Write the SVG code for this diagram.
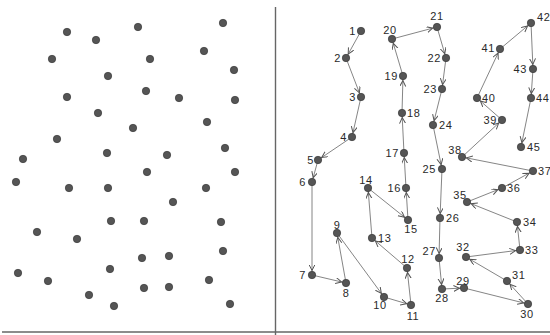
<svg xmlns="http://www.w3.org/2000/svg" width="550" height="335" viewBox="0 0 550 335">
<style>
.dot{fill:#555;stroke:#3a3a3a;stroke-width:0.7}
.lbl{font-family:"Liberation Sans",Arial,sans-serif;font-size:11px;fill:#2a2a2a;letter-spacing:0.6px}
.e{text-anchor:end}
.m{text-anchor:middle}
.c line{stroke:#777;stroke-width:0.9;marker-end:url(#ah)}
.frame{stroke:#666;stroke-width:1.4;fill:none}
</style>
<defs>
<marker id="ah" markerUnits="userSpaceOnUse" markerWidth="12" markerHeight="8" refX="10.5" refY="3" orient="auto">
<path d="M0,0 L6,3 L0,6" fill="none" stroke="#555" stroke-width="1"/>
</marker>
</defs>
<rect width="550" height="335" fill="#fff"/>
<g id="frame">
<line class="frame" x1="275.5" y1="7" x2="275.5" y2="335"/>
<line class="frame" x1="2" y1="332" x2="550" y2="332" stroke="#888"/>
</g>
<g id="unordered-dots">
<circle class="dot" cx="67" cy="32" r="3.7"/>
<circle class="dot" cx="96" cy="40" r="3.7"/>
<circle class="dot" cx="138" cy="27" r="3.7"/>
<circle class="dot" cx="223" cy="23" r="3.7"/>
<circle class="dot" cx="52" cy="59" r="3.7"/>
<circle class="dot" cx="150" cy="59" r="3.7"/>
<circle class="dot" cx="204" cy="51" r="3.7"/>
<circle class="dot" cx="108" cy="76" r="3.7"/>
<circle class="dot" cx="234" cy="70" r="3.7"/>
<circle class="dot" cx="67" cy="97" r="3.7"/>
<circle class="dot" cx="146" cy="91" r="3.7"/>
<circle class="dot" cx="179" cy="98" r="3.7"/>
<circle class="dot" cx="235" cy="100" r="3.7"/>
<circle class="dot" cx="98" cy="113" r="3.7"/>
<circle class="dot" cx="133" cy="128" r="3.7"/>
<circle class="dot" cx="207" cy="122" r="3.7"/>
<circle class="dot" cx="57" cy="139" r="3.7"/>
<circle class="dot" cx="225" cy="148" r="3.7"/>
<circle class="dot" cx="107" cy="153" r="3.7"/>
<circle class="dot" cx="167" cy="155" r="3.7"/>
<circle class="dot" cx="23" cy="159" r="3.7"/>
<circle class="dot" cx="147" cy="172" r="3.7"/>
<circle class="dot" cx="235" cy="172" r="3.7"/>
<circle class="dot" cx="16" cy="182" r="3.7"/>
<circle class="dot" cx="69" cy="188" r="3.7"/>
<circle class="dot" cx="108" cy="188" r="3.7"/>
<circle class="dot" cx="206" cy="188" r="3.7"/>
<circle class="dot" cx="173" cy="202" r="3.7"/>
<circle class="dot" cx="111" cy="221" r="3.7"/>
<circle class="dot" cx="144" cy="221" r="3.7"/>
<circle class="dot" cx="221" cy="222" r="3.7"/>
<circle class="dot" cx="37" cy="232" r="3.7"/>
<circle class="dot" cx="77" cy="239" r="3.7"/>
<circle class="dot" cx="223" cy="251" r="3.7"/>
<circle class="dot" cx="142" cy="258" r="3.7"/>
<circle class="dot" cx="169" cy="256" r="3.7"/>
<circle class="dot" cx="18" cy="273" r="3.7"/>
<circle class="dot" cx="110" cy="269" r="3.7"/>
<circle class="dot" cx="48" cy="281" r="3.7"/>
<circle class="dot" cx="209" cy="280" r="3.7"/>
<circle class="dot" cx="144" cy="288" r="3.7"/>
<circle class="dot" cx="169" cy="287" r="3.7"/>
<circle class="dot" cx="89" cy="295" r="3.7"/>
<circle class="dot" cx="114" cy="306" r="3.7"/>
<circle class="dot" cx="230" cy="304" r="3.7"/>
</g>
<g id="connectors" class="c">
<line x1="361" y1="31" x2="346" y2="58"/>
<line x1="346" y1="58" x2="361" y2="97"/>
<line x1="361" y1="97" x2="352" y2="137"/>
<line x1="352" y1="137" x2="318" y2="160"/>
<line x1="318" y1="160" x2="312" y2="182"/>
<line x1="312" y1="182" x2="312" y2="275"/>
<line x1="312" y1="275" x2="346" y2="283"/>
<line x1="346" y1="283" x2="337" y2="233"/>
<line x1="337" y1="233" x2="384" y2="297"/>
<line x1="384" y1="297" x2="411" y2="305"/>
<line x1="411" y1="305" x2="407" y2="268"/>
<line x1="407" y1="268" x2="372" y2="238"/>
<line x1="372" y1="238" x2="368" y2="188"/>
<line x1="368" y1="188" x2="408" y2="220"/>
<line x1="408" y1="220" x2="406" y2="188"/>
<line x1="406" y1="188" x2="404" y2="153"/>
<line x1="404" y1="153" x2="402" y2="113"/>
<line x1="402" y1="113" x2="403" y2="76"/>
<line x1="403" y1="76" x2="392" y2="39"/>
<line x1="392" y1="39" x2="437" y2="27"/>
<line x1="437" y1="27" x2="446" y2="58"/>
<line x1="446" y1="58" x2="442" y2="89"/>
<line x1="442" y1="89" x2="433" y2="125"/>
<line x1="433" y1="125" x2="442" y2="169"/>
<line x1="442" y1="169" x2="440" y2="218"/>
<line x1="440" y1="218" x2="439" y2="258"/>
<line x1="439" y1="258" x2="442" y2="289"/>
<line x1="442" y1="289" x2="464" y2="288"/>
<line x1="464" y1="288" x2="528" y2="304"/>
<line x1="528" y1="304" x2="507" y2="281"/>
<line x1="507" y1="281" x2="466" y2="257"/>
<line x1="466" y1="257" x2="520" y2="250"/>
<line x1="520" y1="250" x2="517" y2="222"/>
<line x1="517" y1="222" x2="467" y2="202"/>
<line x1="467" y1="202" x2="502" y2="188"/>
<line x1="502" y1="188" x2="533" y2="171"/>
<line x1="533" y1="171" x2="462" y2="157"/>
<line x1="462" y1="157" x2="502" y2="120"/>
<line x1="502" y1="120" x2="477" y2="98"/>
<line x1="477" y1="98" x2="500" y2="49"/>
<line x1="500" y1="49" x2="531" y2="23"/>
<line x1="531" y1="23" x2="533" y2="69"/>
<line x1="533" y1="69" x2="531" y2="98"/>
<line x1="531" y1="98" x2="521" y2="147"/>
</g>
<g id="n1"><circle class="dot" cx="361" cy="31" r="3.7"/><text class="lbl e" x="356" y="35">1</text></g>
<g id="n2"><circle class="dot" cx="346" cy="58" r="3.7"/><text class="lbl e" x="341" y="62">2</text></g>
<g id="n3"><circle class="dot" cx="361" cy="97" r="3.7"/><text class="lbl e" x="356" y="101">3</text></g>
<g id="n4"><circle class="dot" cx="352" cy="137" r="3.7"/><text class="lbl e" x="347" y="141">4</text></g>
<g id="n5"><circle class="dot" cx="318" cy="160" r="3.7"/><text class="lbl e" x="314" y="164">5</text></g>
<g id="n6"><circle class="dot" cx="312" cy="182" r="3.7"/><text class="lbl e" x="306" y="186">6</text></g>
<g id="n7"><circle class="dot" cx="312" cy="275" r="3.7"/><text class="lbl e" x="306" y="279">7</text></g>
<g id="n8"><circle class="dot" cx="346" cy="283" r="3.7"/><text class="lbl m" x="346" y="297">8</text></g>
<g id="n9"><circle class="dot" cx="337" cy="233" r="3.7"/><text class="lbl m" x="337" y="229">9</text></g>
<g id="n10"><circle class="dot" cx="384" cy="297" r="3.7"/><text class="lbl m" x="380" y="309">10</text></g>
<g id="n11"><circle class="dot" cx="411" cy="305" r="3.7"/><text class="lbl m" x="413" y="320">11</text></g>
<g id="n12"><circle class="dot" cx="407" cy="268" r="3.7"/><text class="lbl m" x="408" y="263">12</text></g>
<g id="n13"><circle class="dot" cx="372" cy="238" r="3.7"/><text class="lbl" x="378" y="242">13</text></g>
<g id="n14"><circle class="dot" cx="368" cy="188" r="3.7"/><text class="lbl m" x="366" y="184">14</text></g>
<g id="n15"><circle class="dot" cx="408" cy="220" r="3.7"/><text class="lbl m" x="411" y="233">15</text></g>
<g id="n16"><circle class="dot" cx="406" cy="188" r="3.7"/><text class="lbl e" x="401" y="192">16</text></g>
<g id="n17"><circle class="dot" cx="404" cy="153" r="3.7"/><text class="lbl e" x="399" y="157">17</text></g>
<g id="n18"><circle class="dot" cx="402" cy="113" r="3.7"/><text class="lbl" x="407" y="117">18</text></g>
<g id="n19"><circle class="dot" cx="403" cy="76" r="3.7"/><text class="lbl e" x="398" y="80">19</text></g>
<g id="n20"><circle class="dot" cx="392" cy="39" r="3.7"/><text class="lbl m" x="390" y="34">20</text></g>
<g id="n21"><circle class="dot" cx="437" cy="27" r="3.7"/><text class="lbl m" x="437" y="20">21</text></g>
<g id="n22"><circle class="dot" cx="446" cy="58" r="3.7"/><text class="lbl e" x="441" y="62">22</text></g>
<g id="n23"><circle class="dot" cx="442" cy="89" r="3.7"/><text class="lbl e" x="437" y="93">23</text></g>
<g id="n24"><circle class="dot" cx="433" cy="125" r="3.7"/><text class="lbl" x="439" y="129">24</text></g>
<g id="n25"><circle class="dot" cx="442" cy="169" r="3.7"/><text class="lbl e" x="436" y="173">25</text></g>
<g id="n26"><circle class="dot" cx="440" cy="218" r="3.7"/><text class="lbl" x="446" y="222">26</text></g>
<g id="n27"><circle class="dot" cx="439" cy="258" r="3.7"/><text class="lbl e" x="436" y="255">27</text></g>
<g id="n28"><circle class="dot" cx="442" cy="289" r="3.7"/><text class="lbl m" x="442" y="302">28</text></g>
<g id="n29"><circle class="dot" cx="464" cy="288" r="3.7"/><text class="lbl m" x="463" y="285">29</text></g>
<g id="n30"><circle class="dot" cx="528" cy="304" r="3.7"/><text class="lbl m" x="527" y="318">30</text></g>
<g id="n31"><circle class="dot" cx="507" cy="281" r="3.7"/><text class="lbl" x="512" y="279">31</text></g>
<g id="n32"><circle class="dot" cx="466" cy="257" r="3.7"/><text class="lbl m" x="463" y="251">32</text></g>
<g id="n33"><circle class="dot" cx="520" cy="250" r="3.7"/><text class="lbl" x="525" y="254">33</text></g>
<g id="n34"><circle class="dot" cx="517" cy="222" r="3.7"/><text class="lbl" x="523" y="226">34</text></g>
<g id="n35"><circle class="dot" cx="467" cy="202" r="3.7"/><text class="lbl m" x="460" y="199">35</text></g>
<g id="n36"><circle class="dot" cx="502" cy="188" r="3.7"/><text class="lbl" x="507" y="192">36</text></g>
<g id="n37"><circle class="dot" cx="533" cy="171" r="3.7"/><text class="lbl" x="538" y="175">37</text></g>
<g id="n38"><circle class="dot" cx="462" cy="157" r="3.7"/><text class="lbl m" x="455" y="154">38</text></g>
<g id="n39"><circle class="dot" cx="502" cy="120" r="3.7"/><text class="lbl e" x="497" y="124">39</text></g>
<g id="n40"><circle class="dot" cx="477" cy="98" r="3.7"/><text class="lbl" x="482" y="102">40</text></g>
<g id="n41"><circle class="dot" cx="500" cy="49" r="3.7"/><text class="lbl e" x="495" y="52">41</text></g>
<g id="n42"><circle class="dot" cx="531" cy="23" r="3.7"/><text class="lbl" x="537" y="21">42</text></g>
<g id="n43"><circle class="dot" cx="533" cy="69" r="3.7"/><text class="lbl e" x="527" y="73">43</text></g>
<g id="n44"><circle class="dot" cx="531" cy="98" r="3.7"/><text class="lbl" x="536" y="102">44</text></g>
<g id="n45"><circle class="dot" cx="521" cy="147" r="3.7"/><text class="lbl" x="527" y="151">45</text></g>
</svg>
